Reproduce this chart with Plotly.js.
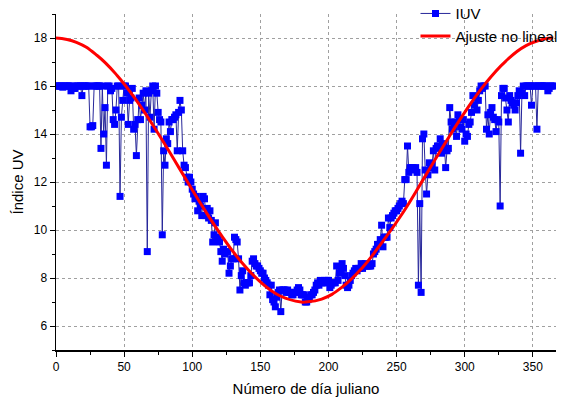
<!DOCTYPE html>
<html>
<head>
<meta charset="utf-8">
<script src="https://cdn.plot.ly/plotly-3.0.1.min.js"></script>
<style>html,body{margin:0;padding:0;background:#fff;}#chart{width:566px;height:402px;}</style>
</head>
<body>
<div id="chart"></div>
<script>
// Daily UV index (IUV), one value per Julian day starting at day 0
const uvi = [
16,16,16,16,16,15.95,16,16,16,16,16,15.8,16,15.9,15.9,16,16,16,16,15.6,
16,16,16,16,16,14.3,14.3,14.35,16,16,16,16,16,13.4,16,14.0,15.1,12.7,16,16,
15.8,15.9,14.6,14.4,15.0,16,16,11.4,14.7,15.4,16,16,15.7,14.4,15.4,15.5,15.9,14.2,14.4,13.1,
14.6,15.5,14.6,15.2,15.7,15.0,15.8,9.1,15.7,14.7,15.8,16.0,14.2,16.0,15.7,14.9,14.6,14.5,9.8,13.3,
12.7,13.8,13.6,14.5,14.1,14.6,14.6,14.7,14.8,13.3,14.9,15.4,15.0,13.3,12.7,12.6,12.2,12.0,12.2,12.0,
11.7,11.5,11.3,11.4,10.8,11.2,11.0,10.6,11.4,11.3,10.6,10.9,10.5,10.8,10.4,9.5,9.8,10.3,9.6,9.7,
9.5,9.1,8.7,9.2,9.0,9.1,9.1,8.2,8.5,8.8,8.8,9.7,9.6,9.5,8.8,7.5,8.1,8.3,7.8,7.7,
7.8,7.8,7.8,8.1,8.7,8.8,8.6,8.5,8.5,8.4,8.3,8.2,8.2,8.0,7.9,7.8,7.7,7.3,7.7,7.1,
7.0,6.8,7.2,7.4,7.5,6.6,7.5,7.5,7.5,7.4,7.5,7.4,7.4,7.3,7.3,7.4,7.4,7.5,7.6,7.5,
7.3,7.3,7.3,7.0,7.0,7.1,7.2,7.3,7.3,7.4,7.5,7.7,7.8,7.7,7.9,7.8,7.8,7.9,7.8,7.9,
7.9,7.6,7.7,7.8,7.8,7.8,8.5,7.9,8.2,8.3,8.6,8.4,8.1,7.7,7.6,7.7,7.9,8.1,8.2,8.3,
8.4,8.3,8.4,8.4,8.6,8.4,8.5,8.6,8.5,8.5,8.5,8.5,8.6,9.0,9.1,9.2,9.4,9.4,9.6,10.2,
9.3,9.7,9.7,9.7,10.5,10.1,10.5,10.6,10.7,10.8,10.8,10.9,11.0,11.1,11.2,11.1,12.1,12.1,13.5,12.4,
12.6,12.6,12.6,12.5,12.6,12.4,7.7,11.1,7.4,13.8,14.0,12.5,11.5,12.3,12.8,12.6,12.7,13.3,12.5,13.4,
13.5,13.5,13.8,13.2,13.4,13.6,12.6,13.3,13.4,15.1,14.5,14.2,14.3,14.5,13.9,14.8,14.6,14.3,14.2,14.6,
13.7,14.0,13.9,14.4,14.5,14.9,15.6,15.2,15.5,15.0,15.4,15.8,16.0,15.9,16.0,16.0,14.2,14.8,14.0,14.9,
15.1,14.7,14.6,14.1,14.6,14.5,11.0,15.6,15.9,15.9,15.5,15.0,14.5,15.6,15.4,15.3,15.2,15.0,15.3,15.6,
15.8,13.2,15.7,16.0,15.6,16.0,16,16,16,15.2,16,16,16,14.2,16,16,16,16,16,16,
16,15.8,15.9,16,16,16
];
const days = uvi.map((v, i) => i);

// Non-linear fit curve
const fitDays = [0,15,30,45,60,75,90,105,120,135,150,165,180,183,195,210,225,240,255,270,285,300,315,330,345,360,365];
const fitVals = [18.0,17.82,17.28,16.43,15.32,14.02,12.62,11.21,9.89,8.74,7.84,7.24,7.0,7.0,7.12,7.62,8.44,9.54,10.75,12.15,13.56,14.9,16.09,17.03,17.68,17.98,18.0];

const seriesNames = ["IUV", "Ajuste no lineal"];
const xTitle = "Número de día juliano";
const yTitle = "Índice UV";

const FONT = "Liberation Sans, Arial, sans-serif";

const traces = [
  {
    x: days, y: uvi, name: seriesNames[0], type: "scatter", mode: "lines+markers",
    line: {color: "#27279a", width: 1},
    marker: {symbol: "square", size: 7, color: "#0000ff", line: {width: 0}}
  },
  {
    x: fitDays, y: fitVals, name: seriesNames[1], type: "scatter", mode: "lines",
    line: {color: "#ff0000", width: 3, shape: "spline", smoothing: 1.3}
  }
];

const axisCommon = {
  showline: true, linecolor: "#000", linewidth: 1.5,
  ticks: "outside", ticklen: 5, tickwidth: 1, tickcolor: "#000",
  showgrid: true, gridcolor: "#a0a0a0", griddash: "dot", gridwidth: 1,
  zeroline: false, mirror: false, automargin: false,
  tickfont: {family: FONT, size: 12, color: "#000"}
};

const layout = {
  width: 566, height: 402,
  margin: {l: 56, r: 10, t: 14, b: 52, autoexpand: false},
  paper_bgcolor: "#fff", plot_bgcolor: "#fff",
  showlegend: true,
  legend: {
    x: 0.719, y: 1.05, xanchor: "left", yanchor: "top",
    bgcolor: "rgba(0,0,0,0)", borderwidth: 0,
    font: {family: FONT, size: 15, color: "#000"},
    tracegroupgap: 0
  },
  xaxis: Object.assign({}, axisCommon, {
    range: [0, 367], tick0: 0, dtick: 50,
    minor: {dtick: 25, ticklen: 3, tickcolor: "#000", showgrid: false},
    title: {text: xTitle, font: {family: FONT, size: 15, color: "#000"}, standoff: 10}
  }),
  yaxis: Object.assign({}, axisCommon, {
    range: [5, 19], tick0: 0, dtick: 2,
    minor: {dtick: 1, ticklen: 3, tickcolor: "#000", showgrid: false},
    title: {text: yTitle, font: {family: FONT, size: 15, color: "#000"}, standoff: 6}
  })
};

Plotly.newPlot("chart", traces, layout, {staticPlot: true, displayModeBar: false});
</script>
</body>
</html>
